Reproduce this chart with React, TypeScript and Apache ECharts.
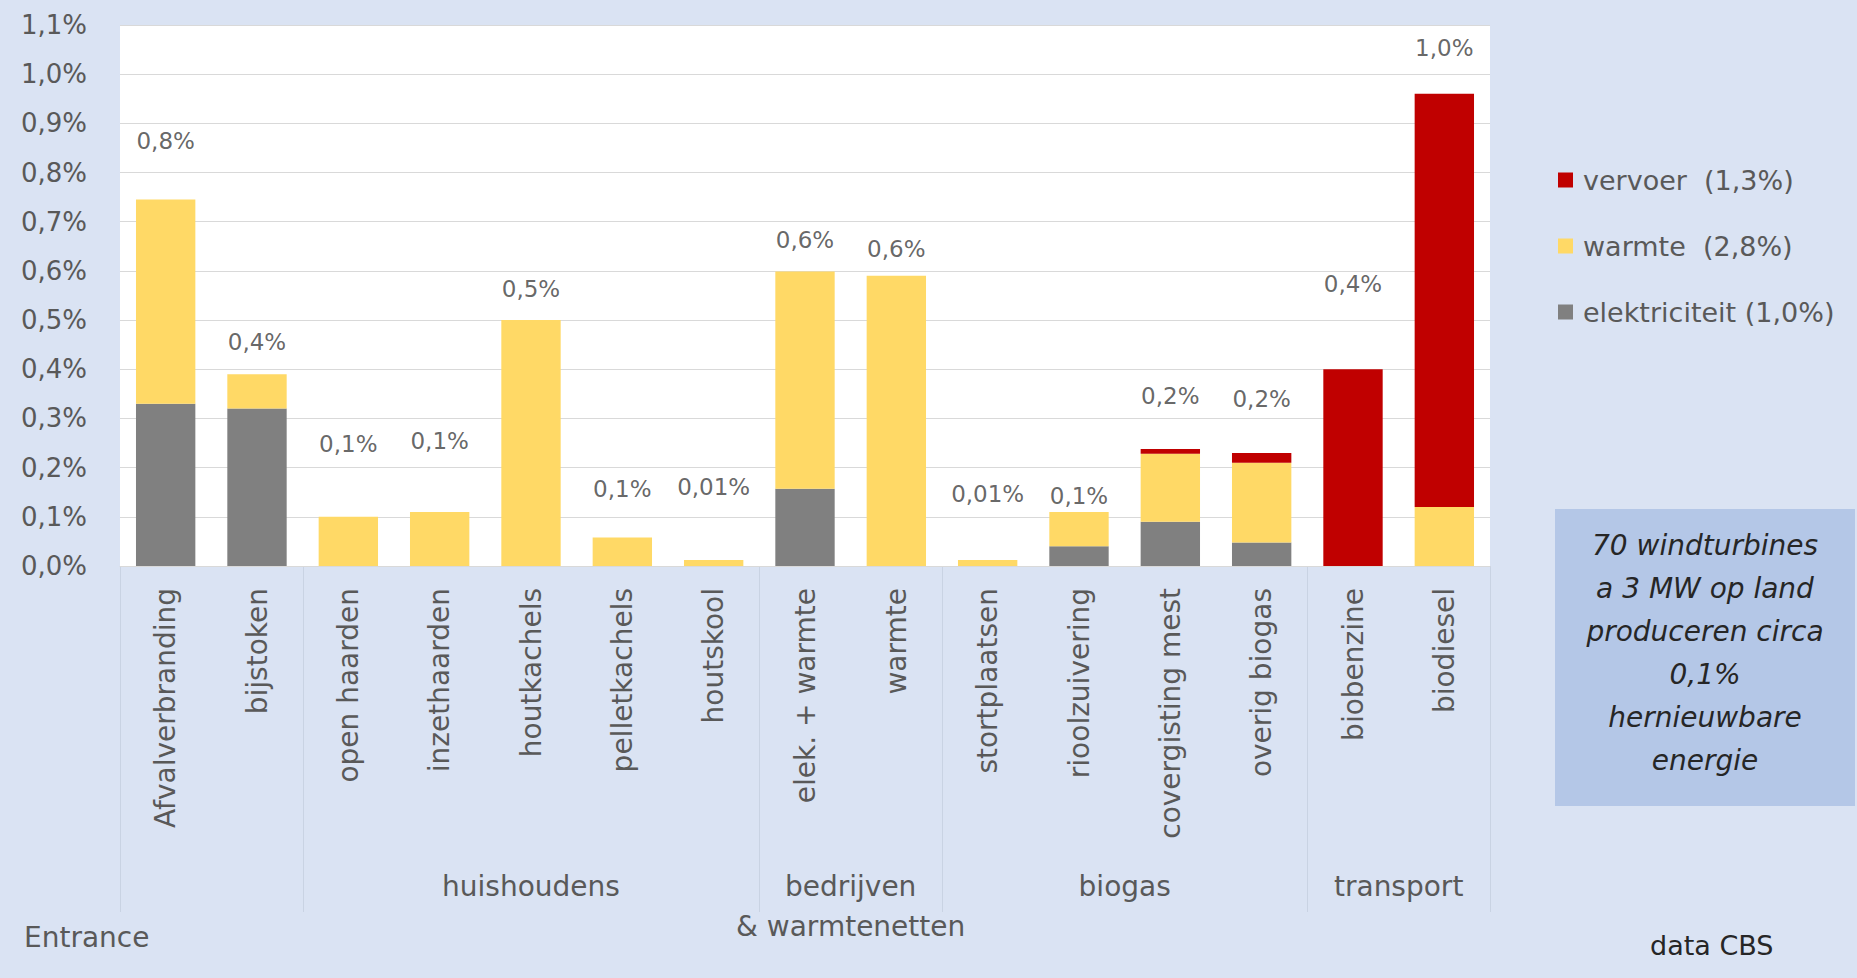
import React, { useEffect, useRef } from 'react';
import * as echarts from 'echarts';

const categories = [
  'Afvalverbranding', 'bijstoken', 'open haarden', 'inzethaarden', 'houtkachels',
  'pelletkachels', 'houtskool', 'elek. + warmte', 'warmte', 'stortplaatsen',
  'rioolzuivering', 'covergisting mest', 'overig biogas', 'biobenzine', 'biodiesel',
];
const elektriciteit = [0.33, 0.32, 0, 0, 0, 0, 0, 0.157, 0, 0, 0.04, 0.09, 0.048, 0, 0];
const warmte = [0.415, 0.07, 0.1, 0.11, 0.5, 0.058, 0.012, 0.442, 0.59, 0.012, 0.07, 0.138, 0.162, 0, 0.12];
const vervoer = [0, 0, 0, 0, 0, 0, 0, 0, 0, 0, 0, 0.01, 0.02, 0.4, 0.84];
const totalLabels = ['0,8%', '0,4%', '0,1%', '0,1%', '0,5%', '0,1%', '0,01%', '0,6%', '0,6%', '0,01%', '0,1%', '0,2%', '0,2%', '0,4%', '1,0%'];
const labelHeights = [0.864, 0.455, 0.248, 0.254, 0.564, 0.157, 0.16, 0.662, 0.645, 0.146, 0.143, 0.345, 0.34, 0.574, 1.054];
const seriesNames = ['elektriciteit (1,0%)', 'warmte  (2,8%)', 'vervoer  (1,3%)'];
const groupNames = ['', 'huishoudens', 'bedrijven\n& warmtenetten', 'biogas', 'transport'];
const groupSizes = [2, 5, 2, 4, 2];
const yMax = 1.1;
const yStep = 0.1;
const noteLines = ['70 windturbines', 'a 3 MW op land', 'produceren circa', '0,1%', 'hernieuwbare', 'energie'];

const FONT = 'DejaVu Sans';
const TEXT = '#595959';

export default function App() {
  const ref = useRef<HTMLDivElement>(null);
  useEffect(() => {
    if (!ref.current) return;
    const chart = echarts.init(ref.current, null, { renderer: 'svg' });
    chart.setOption({
      animation: false,
      backgroundColor: '#DAE3F3',
      textStyle: { fontFamily: FONT },
      grid: {
        left: 120, right: 367, top: 25, bottom: 412,
        show: true, backgroundColor: '#FFFFFF', borderWidth: 0,
        outerBoundsMode: 'none',
      },
      legend: {
        orient: 'vertical', left: 1553, top: 160,
        itemWidth: 15, itemHeight: 15, itemGap: 36, icon: 'rect',
        selectedMode: false,
        data: [seriesNames[2], seriesNames[1], seriesNames[0]],
        textStyle: { fontSize: 27, color: TEXT, fontFamily: FONT, lineHeight: 30, padding: [0, 0, 0, 5] },
      },
      xAxis: {
        type: 'category',
        data: categories,
        axisLine: { lineStyle: { color: '#D9D9D9' } },
        axisTick: { show: false },
        axisLabel: { rotate: 90, interval: 0, fontSize: 28, color: TEXT, margin: 22, fontFamily: FONT },
      },
      yAxis: {
        type: 'value', min: 0, max: yMax, interval: yStep,
        axisLine: { show: false }, axisTick: { show: false },
        splitLine: { lineStyle: { color: '#D9D9D9' } },
        axisLabel: {
          fontSize: 26, color: TEXT, margin: 33, fontFamily: FONT,
          formatter: (v: number) => v.toFixed(1).replace('.', ',') + '%',
        },
      },
      series: [
        { name: seriesNames[0], type: 'bar', stack: 't', data: elektriciteit, barWidth: '65%', itemStyle: { color: '#808080' }, silent: true },
        { name: seriesNames[1], type: 'bar', stack: 't', data: warmte, barWidth: '65%', itemStyle: { color: '#FFD966' }, silent: true },
        { name: seriesNames[2], type: 'bar', stack: 't', data: vervoer, barWidth: '65%', itemStyle: { color: '#C00000' }, silent: true },
        {
          name: 'labels', type: 'scatter', data: labelHeights, symbolSize: 1, silent: true, z: 10,
          itemStyle: { color: 'rgba(0,0,0,0)' },
          label: {
            show: true, position: 'inside', fontSize: 23, color: '#404040', fontFamily: FONT,
            formatter: (p: any) => totalLabels[p.dataIndex],
          },
        },
      ],
    });

    const px = (i: number) => chart.convertToPixel({ xAxisIndex: 0 }, i) as number;
    const bw = px(1) - px(0);
    const y0 = chart.convertToPixel({ yAxisIndex: 0 }, 0) as number;
    const graphics: any[] = [];
    let start = 0;
    const boundaries = [0];
    groupSizes.forEach((n) => { start += n; boundaries.push(start); });
    boundaries.forEach((b) => {
      const x = Math.round(px(0) + (b - 0.5) * bw) + 0.5;
      graphics.push({ type: 'line', shape: { x1: x, y1: y0, x2: x, y2: 912 }, style: { stroke: '#C9D3E3', lineWidth: 1 }, silent: true });
    });
    groupNames.forEach((name, gi) => {
      if (!name) return;
      const a = boundaries[gi];
      const b = boundaries[gi + 1] - 1;
      const cx = (px(a) + px(b)) / 2;
      graphics.push({
        type: 'text', x: cx, y: 866, silent: true,
        style: { text: name, fontSize: 28, fontFamily: FONT, fill: TEXT, lineHeight: 40, align: 'center', textAlign: 'center', verticalAlign: 'top', textVerticalAlign: 'top' },
      });
    });
    graphics.push({
      type: 'text', x: 24, y: 937, silent: true,
      style: { text: 'Entrance', fontSize: 28, fontFamily: FONT, fill: TEXT, align: 'left', textAlign: 'left', verticalAlign: 'middle', textVerticalAlign: 'middle' },
    });
    graphics.push({
      type: 'text', x: 1650, y: 945, silent: true,
      style: { text: 'data CBS', fontSize: 27, fontFamily: FONT, fill: '#262626', align: 'left', textAlign: 'left', verticalAlign: 'middle', textVerticalAlign: 'middle' },
    });
    graphics.push({
      type: 'rect', shape: { x: 1555, y: 509, width: 300, height: 297 }, silent: true,
      style: { fill: '#B4C7E7' },
    });
    graphics.push({
      type: 'text', x: 1705, y: 653, silent: true,
      style: { text: noteLines.join('\n'), fontSize: 28, fontStyle: 'italic', fontFamily: FONT, fill: '#262626', lineHeight: 43, align: 'center', textAlign: 'center', verticalAlign: 'middle', textVerticalAlign: 'middle' },
    });
    chart.setOption({ graphic: graphics });

    return () => chart.dispose();
  }, []);
  return <div ref={ref} style={{ position: 'fixed', left: 0, top: 0, width: 1857, height: 978 }} />;
}
